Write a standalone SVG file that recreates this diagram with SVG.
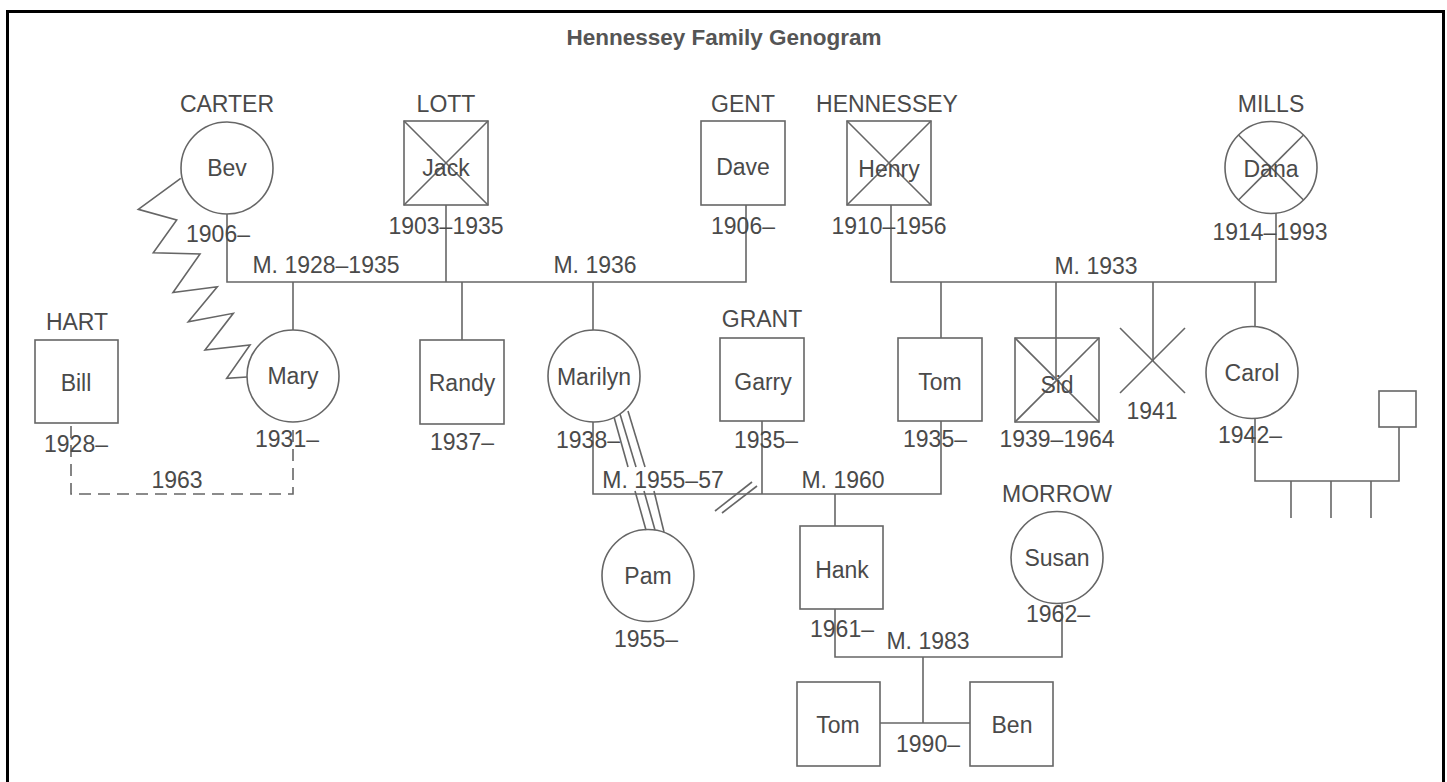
<svg xmlns="http://www.w3.org/2000/svg" width="1447" height="782" viewBox="0 0 1447 782">
<style>
.ln{fill:none;stroke:#666;stroke-width:1.6}
.sh{fill:none;stroke:#666;stroke-width:1.6}
.dash{fill:none;stroke:#666;stroke-width:1.6;stroke-dasharray:12 7}
text{font-family:"Liberation Sans",Arial,Helvetica,sans-serif;font-size:23px;fill:#4a4a4a;text-anchor:middle}
.title{font-size:22.5px;font-weight:bold;fill:#555}
</style>
<rect x="0" y="0" width="1447" height="782" fill="#fff"/>
<rect x="7.5" y="11.5" width="1436" height="790" fill="none" stroke="#000" stroke-width="3"/>
<text class="title" x="724" y="45">Hennessey Family Genogram</text>

<g id="connectors">
  <polyline class="ln" points="227,214 227,282 746,282 746,205"/>
  <line class="ln" x1="446" y1="205" x2="446" y2="282"/>
  <line class="ln" x1="293" y1="282" x2="293" y2="330"/>
  <line class="ln" x1="462" y1="282" x2="462" y2="340"/>
  <line class="ln" x1="593" y1="282" x2="593" y2="330"/>
  <polyline class="ln" points="891,205 891,282 1276,282 1276,213"/>
  <line class="ln" x1="941" y1="282" x2="941" y2="338"/>
  <line class="ln" x1="1056" y1="282" x2="1056" y2="380"/>
  <line class="ln" x1="1153" y1="282" x2="1153" y2="361"/>
  <line class="ln" x1="1255" y1="282" x2="1255" y2="327"/>
  <polyline class="ln" points="1255,418 1255,481 1399,481 1399,427"/>
  <line class="ln" x1="1291" y1="481" x2="1291" y2="518"/>
  <line class="ln" x1="1331" y1="481" x2="1331" y2="518"/>
  <line class="ln" x1="1371" y1="481" x2="1371" y2="518"/>
  <polyline class="ln" points="593,422 593,494 941,494 941,421"/>
  <line class="ln" x1="762" y1="421" x2="762" y2="494"/>
  <line class="ln" x1="715" y1="511" x2="752" y2="482"/>
  <line class="ln" x1="722" y1="513" x2="757" y2="486"/>
  <line class="ln" x1="835" y1="494" x2="835" y2="526"/>
  <line class="ln" x1="614" y1="417" x2="628" y2="467"/>
  <line class="ln" x1="620" y1="414" x2="636" y2="467"/>
  <line class="ln" x1="628" y1="411" x2="645" y2="467"/>
  <line class="ln" x1="635" y1="491" x2="646" y2="530"/>
  <line class="ln" x1="644" y1="491" x2="655" y2="530"/>
  <line class="ln" x1="654" y1="491" x2="664" y2="532"/>
  <polyline class="ln" points="835,609 835,657 1062,657 1062,603"/>
  <line class="ln" x1="923" y1="657" x2="923" y2="723"/>
  <line class="ln" x1="880" y1="723" x2="970" y2="723"/>
  <polyline class="ln" points="180.7,178.3 138.3,209.3 176.7,220 153.3,252.7 200,254 173,292.5 217.3,286.7 188.3,321.7 233.3,313.3 205,350 250,345 226.7,378.3 247,377"/>
  <polyline class="dash" points="71,426 71,494 293,494 293,423"/>
</g>

<g id="bev"><circle class="sh" cx="227" cy="168" r="46"/><text x="227" y="112">CARTER</text><text x="227" y="176">Bev</text><text x="218" y="242">1906–</text></g>
<g id="jack"><rect class="sh" x="404" y="121" width="84" height="84"/><line class="ln" x1="404" y1="121" x2="488" y2="205"/><line class="ln" x1="488" y1="121" x2="404" y2="205"/><text x="446" y="112">LOTT</text><text x="446" y="176">Jack</text><text x="446" y="234">1903–1935</text></g>
<g id="dave"><rect class="sh" x="701" y="121" width="84" height="84"/><text x="743" y="112">GENT</text><text x="743" y="175">Dave</text><text x="743" y="234">1906–</text></g>
<g id="henry"><rect class="sh" x="847" y="121" width="84" height="84"/><line class="ln" x1="847" y1="121" x2="931" y2="205"/><line class="ln" x1="931" y1="121" x2="847" y2="205"/><text x="887" y="112">HENNESSEY</text><text x="889" y="177">Henry</text><text x="889" y="234">1910–1956</text></g>
<g id="dana"><circle class="sh" cx="1271" cy="167.5" r="46"/><line class="ln" x1="1238.5" y1="135" x2="1303.5" y2="200"/><line class="ln" x1="1303.5" y1="135" x2="1238.5" y2="200"/><text x="1271" y="112">MILLS</text><text x="1271" y="177">Dana</text><text x="1270" y="240">1914–1993</text></g>
<text x="326" y="273">M. 1928–1935</text>
<text x="595" y="273">M. 1936</text>
<text x="1096" y="274">M. 1933</text>

<g id="bill"><rect class="sh" x="35" y="340" width="83" height="83"/><text x="77" y="330">HART</text><text x="76" y="391">Bill</text><text x="76" y="452">1928–</text></g>
<text x="177" y="488">1963</text>
<g id="mary"><circle class="sh" cx="293" cy="376" r="46"/><text x="293" y="384">Mary</text><text x="287" y="447">1931–</text></g>
<g id="randy"><rect class="sh" x="420" y="340" width="84" height="84"/><text x="462" y="391">Randy</text><text x="462" y="450">1937–</text></g>
<g id="marilyn"><circle class="sh" cx="594" cy="376" r="46"/><text x="594" y="385">Marilyn</text><text x="588" y="448">1938–</text></g>
<g id="garry"><rect class="sh" x="720" y="338" width="84" height="83"/><text x="762" y="327">GRANT</text><text x="763" y="390">Garry</text><text x="766" y="448">1935–</text></g>
<g id="tom1"><rect class="sh" x="898" y="338" width="84" height="83"/><text x="940" y="390">Tom</text><text x="935" y="447">1935–</text></g>
<g id="sid"><rect class="sh" x="1015" y="338" width="84" height="84"/><line class="ln" x1="1015" y1="338" x2="1099" y2="422"/><line class="ln" x1="1099" y1="338" x2="1015" y2="422"/><text x="1057" y="393">Sid</text><text x="1057" y="447">1939–1964</text></g>
<g id="loss1941"><line class="ln" x1="1120" y1="328" x2="1185" y2="393"/><line class="ln" x1="1185" y1="328" x2="1120" y2="393"/><text x="1152" y="419">1941</text></g>
<g id="carol"><circle class="sh" cx="1252" cy="372.5" r="46"/><text x="1252" y="381">Carol</text><text x="1250" y="443">1942–</text></g>
<g id="carolpartner"><rect class="sh" x="1379" y="391" width="37" height="36"/></g>
<text x="663" y="488">M. 1955–57</text>
<text x="843" y="488">M. 1960</text>

<g id="pam"><circle class="sh" cx="648" cy="575.5" r="46"/><text x="648" y="584">Pam</text><text x="646" y="647">1955–</text></g>
<g id="hank"><rect class="sh" x="800" y="526" width="83" height="83"/><text x="842" y="578">Hank</text><text x="842" y="637">1961–</text></g>
<g id="susan"><circle class="sh" cx="1057" cy="557.5" r="46"/><text x="1057" y="502">MORROW</text><text x="1057" y="566">Susan</text><text x="1058" y="622">1962–</text></g>
<text x="928" y="649">M. 1983</text>
<g id="tom2"><rect class="sh" x="797" y="682" width="83" height="84"/><text x="838" y="733">Tom</text></g>
<g id="ben"><rect class="sh" x="970" y="682" width="83" height="84"/><text x="1012" y="733">Ben</text></g>
<text x="928" y="752">1990–</text>
</svg>
